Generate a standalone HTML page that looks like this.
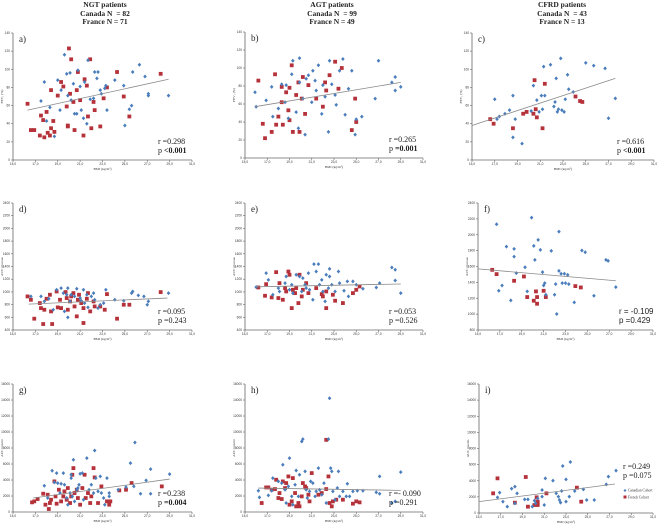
<!DOCTYPE html>
<html><head><meta charset="utf-8">
<style>
html,body{margin:0;padding:0;background:#fff;}
body{width:658px;height:525px;overflow:hidden;position:relative;font-family:"Liberation Serif",serif;}
.hdr{position:absolute;text-align:center;font-weight:bold;font-size:7.5px;line-height:8.5px;color:#222;width:120px;}
svg{position:absolute;left:0;top:0;}
</style></head>
<body>
<div class="hdr" style="left:45px;top:1px;">NGT patients<br>Canada N &nbsp;= 82<br>France N = 71</div>
<div class="hdr" style="left:272px;top:1px;">AGT patients<br>Canada N &nbsp;= 99<br>France N = 49</div>
<div class="hdr" style="left:502px;top:1px;">CFRD patients<br>Canada N &nbsp;= 43<br>France N = 13</div>
<svg id="chart" width="658" height="525"></svg>
<script>
// ---- data (BMI x, value y) ----
const aBlueX=[17.5,17.8,18.0,18.3,18.7,19.0,19.2,19.3,19.6,19.8,19.9,20.1,20.2,20.4,20.5,20.7,20.8,21.0,21.1,21.3,21.4,21.6,21.7,21.9,22.2,22.3,22.5,22.6,22.8,22.9,23.2,23.3,23.4,24.1,24.9,25.0,25.4,25.6,25.7,26.3,26.8,27.1,27.1,28.9];
const aBlueY=[65,86,43,58,26,88,55,77,116,95,71,96,66,84,51,51,99,81,55,46,86,40,110,67,68,97,90,97,77,73,79,82,55,88,82,38,56,60,97,105,92,73,71,71];
const aRedX=[16.3,16.6,16.9,17.4,17.5,17.7,17.8,18.0,18.1,18.3,18.4,18.4,18.6,18.7,19.0,19.3,19.5,19.8,19.9,19.9,20.0,20.1,20.2,20.4,20.5,20.7,20.8,21.0,21.3,21.4,21.6,21.7,21.9,22.0,22.2,22.3,22.8,23.1,23.4,24.3,24.9,25.4,28.2];
const aRedY=[62,33,33,27,49,44,25,53,30,27,35,77,43,31,71,86,81,59,37,38,123,73,111,64,33,77,97,66,27,89,82,48,111,35,64,55,37,68,80,97,70,48,95];
const aFitX=[16.3,28.9], aFitY=[55,89];

const bBlueX=[15.9,16.0,16.9,17.4,17.5,18.0,18.3,18.6,18.7,18.9,19.2,19.3,19.6,19.8,19.9,19.9,20.2,20.4,20.5,20.7,21.0,21.1,21.3,21.4,21.6,21.9,22.0,22.2,22.5,22.6,22.8,23.1,23.2,23.5,23.8,24.0,24.3,24.6,24.9,25.0,25.5,26.7,27.0,28.2,28.5,29.0,28.5];
const bBlueY=[73,57,64,79,46,55,82,62,81,44,93,108,51,33,84,111,66,26,88,92,62,97,86,75,103,49,81,68,29,108,82,70,59,97,110,48,77,97,26,43,46,66,108,84,90,79,75];
const bRedX=[16.2,16.6,16.8,17.4,17.7,17.8,18.0,18.3,18.3,18.4,18.7,18.9,19.0,19.0,19.2,19.3,19.6,19.8,19.9,20.1,20.2,20.4,20.7,21.4,22.0,22.2,22.3,22.6,23.1,23.4,23.7,24.9,25.0,24.6];
const bRedY=[86,38,22,29,93,37,46,79,62,37,73,53,42,78,103,29,70,84,29,66,90,49,81,66,57,84,75,92,107,77,100,66,40,31];
const bFitX=[15.9,29.0], bFitY=[57,84];

const cBlueX=[17.0,17.2,17.4,17.9,18.3,18.6,18.6,18.8,19.4,20.2,20.4,20.7,20.9,21.1,21.2,21.3,21.4,21.9,22.2,22.3,22.4,22.5,22.6,22.8,22.9,23.1,23.2,23.4,23.5,23.9,25.0,25.7,26.7,27.0,27.6];
const cBlueY=[67,45,48,51,55,71,25,45,18,54,82,66,53,71,56,103,71,105,59,64,90,53,56,112,55,53,67,94,78,75,107,104,101,46,68];
const cRedX=[16.6,16.9,18.6,19.5,19.8,20.4,20.5,20.6,20.7,21.2,21.4,24.1,24.5,24.7];
const cRedY=[45,40,35,51,53,51,88,56,47,35,84,70,65,64];
const cFitX=[15.0,27.6], cFitY=[38,90];

const dBlueX=[16.6,17.5,17.8,18.2,18.6,18.9,19.3,19.5,19.6,19.8,19.9,20.1,20.2,20.5,20.7,21.0,21.1,21.3,21.4,21.6,21.7,22.0,22.2,22.3,22.6,22.8,23.1,23.3,24.1,24.9,25.6,25.7,26.2,26.7,27.1,27.0,28.9,19.9];
const dBlueY=[929,929,850,892,719,1033,1060,981,693,955,1060,850,955,929,1049,903,861,1033,824,955,756,929,981,876,745,798,824,1033,876,861,981,1007,945,929,850,798,981,599];
const dRedX=[16.3,16.6,16.9,17.4,17.5,17.7,17.8,18.0,18.3,18.4,18.5,18.9,19.0,19.2,19.3,19.7,19.8,19.9,20.1,20.2,20.4,20.5,20.7,20.8,20.9,21.1,21.3,21.3,21.6,21.7,21.9,22.2,22.3,22.8,23.2,23.4,24.3,24.9,25.4,28.2];
const dRedY=[929,876,578,824,745,494,719,892,955,693,494,1007,756,876,745,997,903,719,850,929,981,771,615,876,955,824,745,510,892,981,693,850,771,771,719,965,578,798,798,997];
const dFitX=[16.4,28.8], dFitY=[808,903];

const eBlueX=[16.0,16.9,17.1,17.5,18.0,18.1,18.6,18.7,19.0,19.2,19.3,19.6,19.9,20.1,20.2,20.4,20.5,20.7,20.8,21.1,21.2,21.4,21.6,21.7,21.9,22.0,22.2,22.3,22.5,22.6,22.6,22.8,23.1,23.4,23.5,23.9,24.2,24.3,24.7,25.0,25.6,26.8,27.1,28.2,28.5,28.5,29.0];
const eBlueY=[1075,1295,1190,955,1060,1007,1138,1243,1033,1112,981,1270,1243,1007,1217,1112,1060,1295,1033,876,1437,1321,1437,1112,1190,1007,850,1270,1060,1363,1243,1112,1007,1321,1138,1018,1165,929,1165,1112,1049,1070,1138,1385,1348,1180,981];
const eRedX=[16.2,16.8,16.9,17.4,17.8,18.0,18.1,18.4,18.6,18.7,18.9,19.0,19.2,19.3,19.5,19.6,19.8,19.9,20.1,20.2,20.5,20.7,21.4,21.9,22.0,22.3,22.3,22.9,23.1,23.8,24.7,25.0,25.3];
const eRedY=[1070,939,1122,913,1311,903,1138,876,1060,1007,1321,1270,745,1033,981,1060,824,1270,929,1033,1138,981,1060,965,929,745,1007,955,861,824,981,1033,1086];
const eFitX=[16.0,29.0], eFitY=[1080,1125];

const fBlueX=[16.7,16.9,17.2,17.6,18.0,18.3,18.3,18.5,19.3,19.5,19.9,20.1,20.2,20.5,20.7,20.9,21.0,21.1,21.2,21.7,22.0,22.1,22.4,22.4,22.6,22.7,22.9,23.0,23.2,23.3,22.2,23.8,24.5,24.8,25.6,26.7,26.9,27.6];
const fBlueY=[2132,1294,1361,1851,1173,1822,1725,1516,1591,1286,2215,1860,1684,1935,1809,1529,1361,1390,1244,1797,1244,1378,1545,2040,1508,1390,1508,1390,1495,1378,1001,1148,1801,1780,1231,1684,1671,1340];
const fRedX=[16.3,16.7,18.3,19.2,19.5,20.1,20.3,20.4,20.4,21.0,21.2,23.9,24.4];
const fRedY=[1558,1504,1420,1474,1215,1169,1286,1215,1131,1294,1215,1353,1336];
const fFitX=[15.0,27.6], fFitY=[1570,1420];

const gBlueX=[17.8,18.1,18.5,18.7,18.9,19.0,19.2,19.3,19.5,19.6,19.8,19.9,20.1,20.2,20.2,20.3,20.4,20.5,20.7,20.8,20.9,21.0,21.2,21.3,21.6,21.8,22.0,22.2,22.3,22.4,22.6,22.8,22.9,23.1,23.2,23.4,23.6,23.6,24.4,25.1,25.5,25.8,25.9,26.4,26.9,27.3,27.3,29.0];
const gBlueY=[3283,1746,5154,3699,4863,3616,2369,3533,4863,3408,1746,914,2369,4239,4655,1953,6525,1330,2785,2993,3408,4780,4863,1538,6733,2785,3408,2369,7689,4239,2577,4447,2369,1746,914,4239,1953,2369,2785,3117,6110,3200,8687,2286,3949,5362,2286,4738];
const gRedX=[16.7,16.9,17.2,17.7,17.9,18.1,18.2,18.3,18.4,18.7,18.8,18.9,19.1,19.3,19.5,19.6,19.8,19.9,20.1,20.2,20.3,20.4,20.5,20.7,20.8,21.0,21.2,21.4,21.5,21.7,21.9,22.0,22.2,22.3,22.6,22.9,23.4,23.6,23.7,24.5,25.1,25.6,28.3];
const gRedY=[1205,1330,1621,2286,914,2161,374,1122,1538,3824,1953,1039,2785,1330,1953,2577,1538,2993,1122,1953,4655,5486,2369,2785,1746,914,2993,4655,1746,2369,1122,1953,5486,4322,1122,3200,1330,914,1330,2702,2785,3616,3200];
const gFitX=[16.8,29.0], gFitY=[1746,4115];

const hBlueX=[16.2,16.3,17.1,17.4,17.5,18.0,18.3,18.4,18.6,18.7,18.9,19.0,19.2,19.3,19.5,19.6,19.8,19.9,20.1,20.2,20.4,20.5,20.6,20.8,20.9,21.1,21.3,21.4,21.6,21.7,21.9,22.1,22.3,22.5,22.6,22.7,22.8,22.9,23.1,23.3,23.4,23.5,23.8,24.1,24.2,24.4,24.7,25.1,25.6,26.8,27.1,27.1,28.2,28.5,29.0];
const hBlueY=[2660,1829,2078,2660,4239,3824,3616,5902,2785,1122,3200,6733,1953,914,3408,5195,1953,4655,8811,9102,5071,2785,1746,2577,3824,3616,1953,2577,5486,2785,2161,3616,1122,9102,14214,5486,5071,2577,1538,2993,5071,1953,2577,1953,3533,1953,2577,2660,2660,2452,2286,4447,1122,1330,4988];
const hRedX=[16.5,16.9,17.1,17.4,17.7,17.8,18.0,18.1,18.3,18.4,18.6,18.7,18.9,19.0,19.2,19.3,19.5,19.6,19.8,19.9,20.1,20.2,20.4,20.5,20.7,20.8,21.0,21.6,21.9,22.3,22.3,22.5,22.6,22.8,22.9,23.2,23.8,24.7,25.0,25.3];
const hRedY=[1122,3075,3075,2785,2868,4032,1746,2369,1621,3824,2993,3616,4447,914,1330,4239,2369,706,1122,706,1953,3616,3200,2993,2161,1330,4863,2161,2369,9019,2868,4447,1122,706,1330,1538,1538,1039,1330,1205];
const hFitX=[16.2,29.0], hFitY=[2993,2702];

const iBlueX=[16.7,16.9,17.2,17.6,18.0,18.3,18.5,18.3,19.2,19.5,19.9,20.1,20.2,20.4,20.8,20.8,21.0,21.1,21.8,22.1,22.3,22.4,22.5,22.6,22.7,23.0,23.0,23.3,23.4,23.8,24.6,24.9,25.6,26.7,26.9,27.6];
const iBlueY=[1943,2522,1406,785,3018,3266,2439,1199,1695,1695,785,1530,1199,1819,2026,2852,992,4299,4010,2439,2026,1612,1282,2728,5829,4175,1406,2026,6325,2728,2935,1612,1612,3555,4506,5250];
const iRedX=[16.3,16.7,18.3,19.3,19.5,20.1,20.3,20.4,20.4,21.2,24.0,24.4];
const iRedY=[2439,4299,1282,4464,785,992,1943,1406,992,2439,3142,1406];
const iFitX=[15.0,27.5], iFitY=[1406,3597];

const xTicks=[15,17,19,21,23,25,27,29,31];
const fevTicks=[0,20,40,60,80,100,120,140];
const glucTicks=[400,600,800,1000,1200,1400,1600,1800,2000,2200,2400];
const glucTicksF=[800,1000,1200,1400,1600,1800,2000,2200,2400];
const insTicks=[0,2000,4000,6000,8000,10000,12000,14000,16000];

const NS='http://www.w3.org/2000/svg';
const svg=document.getElementById('chart');
function mk(tag,attrs,parent){const e=document.createElementNS(NS,tag);for(const k in attrs)e.setAttribute(k,attrs[k]);(parent||svg).appendChild(e);return e;}

const panels=[
 {id:'a',x0:13,x1:192,y0:33,y1:160,t:fevTicks,yt:'FEV\u2081 (%)',bx:aBlueX,by:aBlueY,rx:aRedX,ry:aRedY,fx:aFitX,fy:aFitY,r:'r =0.298',p:'p ',pb:'<0.001',rdx:34,rdy:16},
 {id:'b',x0:245,x1:423,y0:32,y1:158,t:fevTicks,yt:'FEV\u2081 (%)',bx:bBlueX,by:bBlueY,rx:bRedX,ry:bRedY,fx:bFitX,fy:bFitY,r:'r =0.265',p:'p ',pb:'=0.001',rdx:34,rdy:16},
 {id:'c',x0:472,x1:654,y0:33,y1:160,t:fevTicks,yt:'FEV\u2081 (%)',bx:cBlueX,by:cBlueY,rx:cRedX,ry:cRedY,fx:cFitX,fy:cFitY,r:'r =0.616',p:'p ',pb:'<0.001',rdx:37,rdy:16},
 {id:'d',x0:13,x1:192,y0:203,y1:330,t:glucTicks,yt:'AUC glucose',bx:dBlueX,by:dBlueY,rx:dRedX,ry:dRedY,fx:dFitX,fy:dFitY,r:'r =0.095',p:'p =0.243',pb:'',rdx:34,rdy:16},
 {id:'e',x0:245,x1:423,y0:203,y1:330,t:glucTicks,yt:'AUC glucose',bx:eBlueX,by:eBlueY,rx:eRedX,ry:eRedY,fx:eFitX,fy:eFitY,r:'r =0.053',p:'p =0.526',pb:'',rdx:34,rdy:16},
 {id:'f',x0:478,x1:653,y0:203,y1:330,t:glucTicksF,yt:'AUC glucose',bx:fBlueX,by:fBlueY,rx:fRedX,ry:fRedY,fx:fFitX,fy:fFitY,r:'r = -0.109',p:'p =0.429',pb:'',rdx:34,rdy:16,sans:true},
 {id:'g',x0:13,x1:192,y0:384,y1:512,t:insTicks,yt:'AUC insulin',bx:gBlueX,by:gBlueY,rx:gRedX,ry:gRedY,fx:gFitX,fy:gFitY,r:'r =0.238',p:'p ',pb:'=0.004',rdx:34,rdy:16},
 {id:'h',x0:245,x1:423,y0:384,y1:512,t:insTicks,yt:'AUC insulin',bx:hBlueX,by:hBlueY,rx:hRedX,ry:hRedY,fx:hFitX,fy:hFitY,r:'r =- 0.090',p:'p =0.291',pb:'',rdx:34,rdy:16},
 {id:'i',x0:479,x1:653,y0:384,y1:513,t:insTicks,yt:'AUC insulin',bx:iBlueX,by:iBlueY,rx:iRedX,ry:iRedY,fx:iFitX,fy:iFitY,r:'r =0.249',p:'p =0.075',pb:'',rdx:30,rdy:44}
];

panels.forEach(P=>{
  const g=mk('g',{});
  
  
  const ymin=P.t[0], ymax=P.t[P.t.length-1];
  const sx=v=>P.x0+(v-15)/16*(P.x1-P.x0);
  const sy=v=>P.y1-(v-ymin)/(ymax-ymin)*(P.y1-P.y0);
  const ya=mk('line',{x1:P.x0,y1:P.y0,x2:P.x0,y2:P.y1,stroke:'#666','stroke-width':0.8},g);
  
  
  const xa=mk('line',{x1:P.x0,y1:P.y1,x2:P.x1,y2:P.y1,stroke:'#666','stroke-width':0.8},g);
  
  
  P.t.forEach(v=>{
    mk('line',{x1:P.x0-2,y1:sy(v),x2:P.x0,y2:sy(v),stroke:'#666','stroke-width':0.6},g);
    const tx=mk('text',{x:P.x0-3,y:sy(v)+1,'font-size':3.2,'text-anchor':'end',fill:'#333','font-family':'Liberation Sans, sans-serif'},g);
    tx.textContent=v;
    
    
  });
  xTicks.forEach(v=>{
    mk('line',{x1:sx(v),y1:P.y1,x2:sx(v),y2:P.y1+2,stroke:'#666','stroke-width':0.6},g);
    const tx=mk('text',{x:sx(v),y:P.y1+5,'font-size':3.2,'text-anchor':'middle',fill:'#333','font-family':'Liberation Sans, sans-serif'},g);
    tx.textContent=v.toFixed(1).replace('.',',');
    
    
  });
  const xt=mk('text',{x:(P.x0+P.x1)/2,y:P.y1+10,'font-size':3.5,'text-anchor':'middle',fill:'#333'},g);
  xt.textContent='BMI (kg/m\u00b2)';
  
  
  const cy=(P.y0+P.y1)/2;
  const yt=mk('text',{x:P.x0-10,y:cy,'font-size':3.5,'text-anchor':'middle',fill:'#333',transform:'rotate(-90 '+(P.x0-10)+' '+cy+')'},g);
  yt.textContent=P.yt;
  
  
  const lb=mk('text',{x:P.x0+6,y:P.y0+9,'font-size':9,fill:'#222'},g);
  lb.textContent=P.id+')';
  
  
  P.rx.forEach((v,k)=>{
    const s=mk('rect',{x:sx(v)-1.9,y:sy(P.ry[k])-1.9,width:3.8,height:3.8,fill:'#b5323a'},g);
    
    
  });
  P.bx.forEach((v,k)=>{
    const X=sx(v),Y=sy(P.by[k]);
    const s=mk('path',{d:`M${X} ${Y-2}L${X+1.8} ${Y}L${X} ${Y+2}L${X-1.8} ${Y}Z`,fill:'#4a7dbb'},g);
    
    
  });
  const fl=mk('line',{x1:sx(P.fx[0]),y1:sy(P.fy[0]),x2:sx(P.fx[1]),y2:sy(P.fy[1]),stroke:'#8a8a8a','stroke-width':0.8},g);
  
  
  const ff=P.sans?'Liberation Sans, sans-serif':'Liberation Serif, serif';
  const rt=mk('text',{x:P.x1-P.rdx,y:P.y1-P.rdy,'font-size':8,fill:'#222','font-family':ff},g);
  rt.textContent=P.r;
  
  
  const pt=mk('text',{x:P.x1-P.rdx,y:P.y1-P.rdy+9,'font-size':8,fill:'#222','font-family':ff},g);
  pt.textContent=P.p;
  if(P.pb){const b=mk('tspan',{'font-weight':'bold'},pt);b.textContent=P.pb;}
  
  
});
const lg=mk('g',{});


mk('path',{d:'M625 489L626.5 490.5L625 492L623.5 490.5Z',fill:'#4a7dbb'},lg);
const l1=mk('text',{x:628,y:491.5,'font-size':3.6,fill:'#333'},lg);
l1.textContent='Canadian Cohort';


mk('rect',{x:623.5,y:495.5,width:3,height:3,fill:'#b5323a'},lg);
const l2=mk('text',{x:628,y:498.5,'font-size':3.6,fill:'#333'},lg);
l2.textContent='French Cohort';


</script>
</body></html>
